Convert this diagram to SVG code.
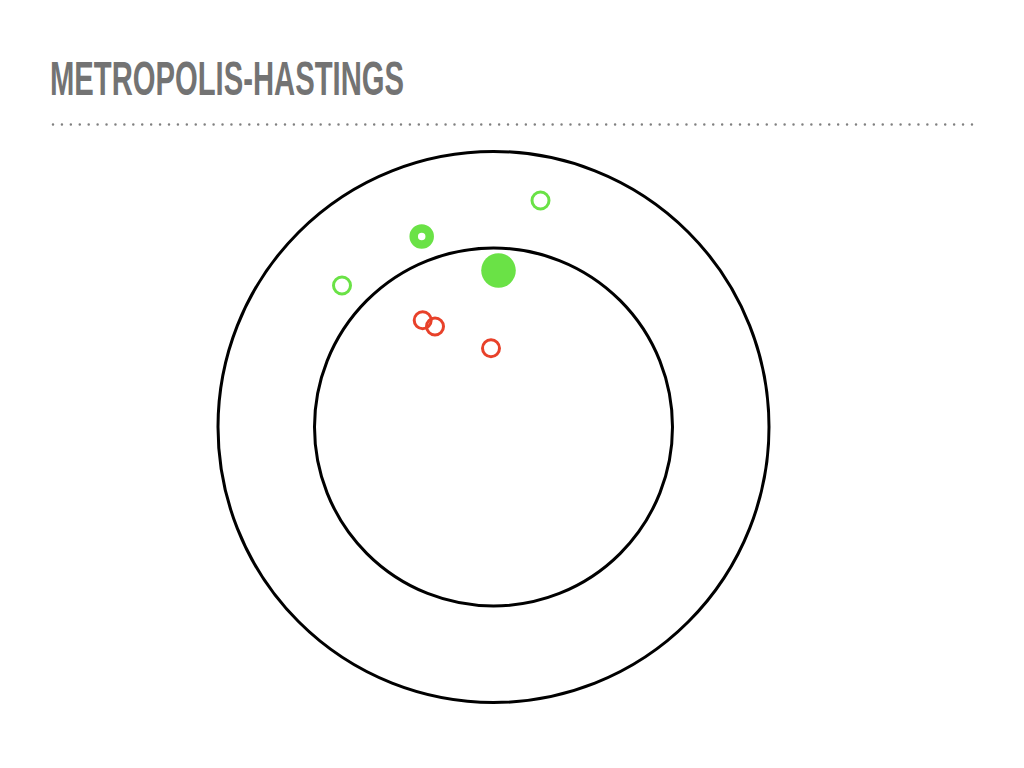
<svg xmlns="http://www.w3.org/2000/svg" width="1024" height="768" viewBox="0 0 1024 768">
<style>
.title{font-family:"Liberation Sans",Arial,sans-serif;font-weight:bold;fill:#737373;}
.ring{fill:none;stroke:#000;stroke-width:3;}
.gopen{fill:none;stroke:#6ae246;stroke-width:3;}
.ropen{fill:none;stroke:#e8412a;stroke-width:3;}
</style>
<rect width="1024" height="768" fill="#fff"/>
<text class="title" x="50" y="95" font-size="49" textLength="354" lengthAdjust="spacingAndGlyphs">METROPOLIS-HASTINGS</text>
<line x1="53" y1="124.5" x2="973" y2="124.5" stroke="#808080" stroke-width="2.5" stroke-linecap="round" stroke-dasharray="0 8.922"/>
<g id="outer"><circle class="ring" cx="493.5" cy="427" r="275.5"/></g>
<g id="inner"><circle class="ring" cx="493.5" cy="427" r="179"/></g>
<g id="g1"><circle class="gopen" cx="540.5" cy="200.5" r="8.5"/></g>
<g id="g2"><circle class="gopen" cx="342" cy="285.5" r="8.5"/></g>
<g id="g3"><circle cx="421.7" cy="236.5" r="8" fill="none" stroke="#6ae246" stroke-width="8.5"/></g>
<g id="g4"><circle cx="498.5" cy="270.5" r="17.3" fill="#6ae246"/></g>
<g id="r1"><circle class="ropen" cx="422.7" cy="320.3" r="8.5"/></g>
<g id="r2"><circle class="ropen" cx="435" cy="326.5" r="8.5"/></g>
<g id="r3"><circle class="ropen" cx="491" cy="348.3" r="8.5"/></g>
<g id="connectors"></g>
</svg>
